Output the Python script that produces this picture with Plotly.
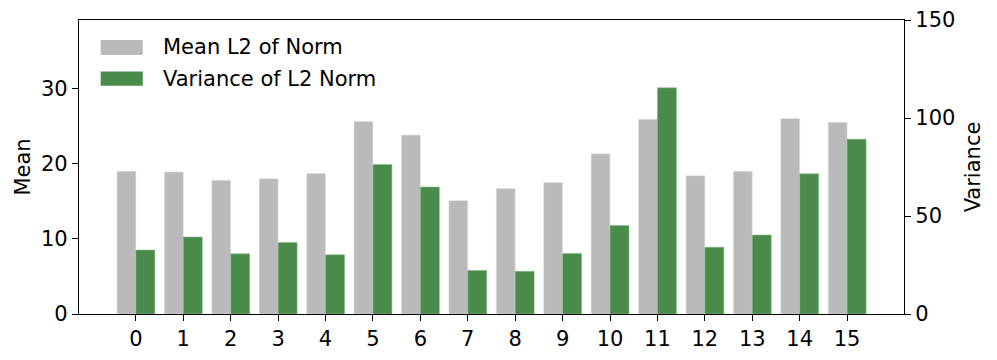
import plotly.graph_objects as go

layers = list(range(16))
mean_l2 = [19.0, 18.9, 17.8, 18.0, 18.7, 25.6, 23.8, 15.1, 16.7, 17.5, 21.3, 25.9, 18.4, 19.0, 26.0, 25.5]
var_l2 = [32.6, 39.3, 30.7, 36.5, 30.2, 76.3, 64.8, 22.2, 21.8, 30.9, 45.2, 115.4, 34.1, 40.3, 71.5, 89.2]

GRAY = '#bababa'
GREEN = '#4a8a4a'
FONT = 'DejaVu Sans'
FS = 21

fig = go.Figure()
fig.add_trace(go.Bar(x=layers, y=mean_l2, name='Mean L2 of Norm', width=0.4, offset=-0.4,
                     marker=dict(color=GRAY, line=dict(color='#e6e6e6', width=0.6)), yaxis='y'))
fig.add_trace(go.Bar(x=layers, y=var_l2, name='Variance of L2 Norm', width=0.4, offset=0,
                     marker=dict(color=GREEN, line=dict(color='#8cb88c', width=0.6)), yaxis='y2'))

# legend drawn by hand so the patches look like matplotlib's
legend_items = [('Mean L2 of Norm', GRAY, 0.932, 0.881), ('Variance of L2 Norm', GREEN, 0.825, 0.776)]
for label, color, y0, y1 in legend_items:
    fig.add_shape(type='rect', xref='paper', yref='paper', x0=0.0263, x1=0.0773, y0=y1, y1=y0,
                  fillcolor=color, line=dict(width=0))
    fig.add_annotation(xref='paper', yref='paper', x=0.099, y=(y0 + y1) / 2, text=label,
                       showarrow=False, xanchor='left', yanchor='middle',
                       font=dict(family=FONT, size=FS, color='black'))

axis_common = dict(showgrid=False, zeroline=False, showline=True, linecolor='black', linewidth=1.2,
                   ticks='outside', ticklen=6, tickwidth=1.2, tickcolor='black', automargin=False,
                   tickfont=dict(family=FONT, size=FS, color='black'))

fig.update_layout(
    width=997,
    height=360,
    margin=dict(l=79, r=93, t=20, b=46),
    plot_bgcolor='white',
    paper_bgcolor='white',
    barmode='overlay',
    showlegend=False,
    font=dict(family=FONT, size=FS, color='black'),
    xaxis=dict(axis_common, range=[-1.2, 16.2], tickmode='array', tickvals=layers,
               ticktext=[str(v) for v in layers], mirror=True),
    yaxis=dict(axis_common, range=[0, 39.1], dtick=10,
               title=dict(text='Mean', font=dict(family=FONT, size=FS), standoff=4)),
    yaxis2=dict(axis_common, range=[0, 150], dtick=50, overlaying='y', side='right',
                title=dict(text='Variance', font=dict(family=FONT, size=FS), standoff=10)),
)

fig.write_html("out.html", config={'displayModeBar': False},
               post_script="document.body.style.margin = '0';")
